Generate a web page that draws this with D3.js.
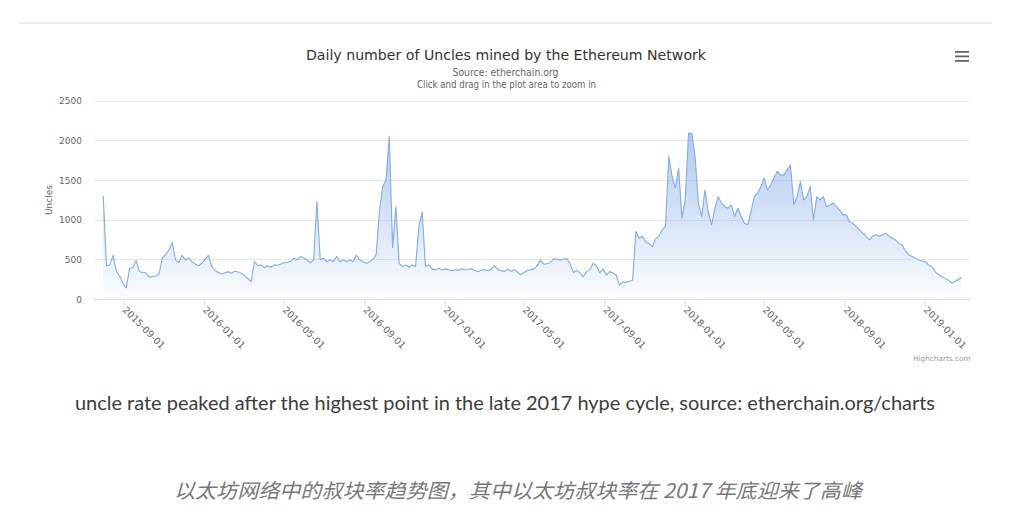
<!DOCTYPE html>
<html><head><meta charset="utf-8">
<script src="https://cdn.jsdelivr.net/npm/d3@7"></script>
<style>body{margin:0;background:#fff;} svg{display:block;}</style>
</head><body><svg id="c" width="1031" height="509"></svg>
<script>
// ---- data ----
const startDate = "2015-08-01";
const stepDays = 5;
const uncles = [
 1300, 420, 430, 550, 350, 290, 200, 140, 380, 400,
 485, 350, 330, 330, 275, 285, 290, 320, 520, 560,
 620, 710, 490, 460, 550, 490, 520, 470, 440, 420,
 450, 500, 550, 410, 360, 335, 315, 330, 345, 325,
 350, 340, 325, 295, 255, 220, 470, 420, 430, 395,
 420, 400, 430, 425, 440, 460, 460, 475, 515, 495,
 535, 515, 495, 455, 495, 1230, 495, 515, 470, 495,
 470, 535, 470, 495, 470, 495, 470, 555, 495, 470,
 450, 470, 495, 560, 1100, 1420, 1500, 2050, 650, 1165,
 450, 410, 430, 400, 430, 410, 915, 1100, 410, 430,
 380, 370, 385, 365, 380, 370, 355, 370, 360, 380,
 365, 375, 380, 360, 345, 365, 370, 355, 375, 420,
 370, 360, 345, 375, 350, 370, 340, 305, 335, 360,
 370, 380, 420, 490, 440, 445, 460, 510, 500, 490,
 500, 510, 440, 335, 360, 330, 280, 345, 370, 450,
 420, 330, 380, 300, 345, 330, 300, 175, 215, 210,
 225, 240, 850, 765, 790, 720, 700, 660, 760, 790,
 870, 915, 1800, 1545, 1400, 1650, 1020, 1250, 2090, 2090,
 1800, 1210, 1040, 1375, 1100, 935, 1140, 1290, 1210, 1165,
 1145, 1185, 1040, 1145, 1040, 955, 935, 1100, 1290, 1335,
 1415, 1525, 1375, 1440, 1525, 1610, 1565, 1565, 1630, 1690,
 1190, 1290, 1480, 1250, 1290, 1420, 1000, 1290, 1250, 1290,
 1165, 1185, 1210, 1165, 1120, 1060, 1060, 975, 955, 915,
 870, 830, 790, 745, 790, 810, 790, 810, 830, 790,
 765, 745, 700, 680, 600, 555, 535, 515, 490, 480,
 470, 430, 410, 345, 305, 280, 260, 240, 200, 220,
 245, 270
];
const yTicks = [0, 500, 1000, 1500, 2000, 2500];
const xTickLabels = ["2015-09-01","2016-01-01","2016-05-01","2016-09-01","2017-01-01",
  "2017-05-01","2017-09-01","2018-01-01","2018-05-01","2018-09-01","2019-01-01"];
const xRange = ["2015-07-18", "2019-03-11"];
const titleText = "Daily number of Uncles mined by the Ethereum Network";
const subtitleLines = ["Source: etherchain.org", "Click and drag in the plot area to zoom in"];
const yAxisTitle = "Uncles";
const creditsText = "Highcharts.com";
const captionEn = "uncle rate peaked after the highest point in the late 2017 hype cycle, source: etherchain.org/charts";
const captionZh = "以太坊网络中的叔块率趋势图，其中以太坊叔块率在 2017 年底迎来了高峰";

// ---- layout ----
const svg = d3.select("#c");
const parse = d3.utcParse("%Y-%m-%d");
const plot = {left: 94, right: 970, top: 100.7, bottom: 299};
const font = "'Lucida Grande','DejaVu Sans',Verdana,sans-serif";

const t0 = parse(startDate);
const series = uncles.map((v, i) => ({date: d3.utcDay.offset(t0, i * stepDays), value: v}));

const x = d3.scaleUtc().domain(xRange.map(parse)).range([plot.left, plot.right]);
const y = d3.scaleLinear().domain([0, 2500]).range([plot.bottom, plot.top]);

// top separator line
svg.append("line").attr("x1", 19).attr("x2", 992).attr("y1", 23).attr("y2", 23)
  .attr("stroke", "#ececec").attr("stroke-width", 2);

// gradient
const defs = svg.append("defs");
const grad = defs.append("linearGradient").attr("id", "ag")
  .attr("x1", 0).attr("y1", 0).attr("x2", 0).attr("y2", 1);
grad.append("stop").attr("offset", 0).attr("stop-color", "#80a9e6").attr("stop-opacity", 0.62);
grad.append("stop").attr("offset", 1).attr("stop-color", "#80a9e6").attr("stop-opacity", 0.03);

// gridlines
svg.append("g").selectAll("line").data(yTicks.filter(d => d > 0)).join("line")
  .attr("x1", plot.left).attr("x2", plot.right)
  .attr("y1", d => Math.round(y(d)) + 0.5).attr("y2", d => Math.round(y(d)) + 0.5)
  .attr("stroke", "#e8e8e8").attr("stroke-width", 1);

// y axis labels
const yAxis = d3.axisLeft(y).tickValues(yTicks).tickSize(0).tickPadding(0).tickFormat(d3.format("d"));
const yg = svg.append("g").attr("transform", `translate(82,0)`).call(yAxis);
yg.select(".domain").remove();
yg.selectAll("text").attr("font-family", font).attr("font-size", 9).attr("fill", "#666")
  .attr("dy", "0.35em");

// area + line
const area = d3.area().x(d => x(d.date)).y0(y(0)).y1(d => y(d.value));
const line = d3.line().x(d => x(d.date)).y(d => y(d.value));
svg.append("path").datum(series).attr("d", area).attr("fill", "url(#ag)");
svg.append("path").datum(series).attr("d", line).attr("fill", "none")
  .attr("stroke", "#84abe2").attr("stroke-width", 1.1).attr("stroke-linejoin", "round");

// x axis
const xAxis = d3.axisBottom(x).tickValues(xTickLabels.map(parse)).tickSize(8)
  .tickFormat(d3.utcFormat("%Y-%m-%d"));
const xg = svg.append("g").attr("transform", `translate(0,${plot.bottom + 0.5})`).call(xAxis);
xg.select(".domain").attr("stroke", "#d6deec").attr("d", `M${plot.left},0H${plot.right}`);
xg.selectAll(".tick line").attr("stroke", "#d6deec");
xg.selectAll(".tick text").attr("font-family", font).attr("font-size", 9.5).attr("fill", "#666")
  .attr("text-anchor", "start").attr("y", 0).attr("dy", 0)
  .attr("transform", "translate(-2,11) rotate(45)");

// titles
svg.append("text").attr("x", 506).attr("y", 59.5).attr("text-anchor", "middle")
  .attr("font-family", font).attr("font-size", 14.5).attr("fill", "#333")
  .attr("textLength", 400).attr("lengthAdjust", "spacingAndGlyphs").text(titleText);
svg.append("text").attr("x", 505.5).attr("y", 76).attr("text-anchor", "middle")
  .attr("font-family", font).attr("font-size", 9.6).attr("fill", "#666")
  .attr("textLength", 106).attr("lengthAdjust", "spacingAndGlyphs").text(subtitleLines[0]);
svg.append("text").attr("x", 506.5).attr("y", 88).attr("text-anchor", "middle")
  .attr("font-family", font).attr("font-size", 9.6).attr("fill", "#666")
  .attr("textLength", 179).attr("lengthAdjust", "spacingAndGlyphs").text(subtitleLines[1]);

// y axis title
svg.append("text").attr("transform", "translate(51.5,200) rotate(-90)").attr("text-anchor", "middle")
  .attr("font-family", font).attr("font-size", 9).attr("fill", "#666").text(yAxisTitle);

// credits
svg.append("text").attr("x", 970.5).attr("y", 361).attr("text-anchor", "end")
  .attr("font-family", font).attr("font-size", 7.3).attr("fill", "#999").text(creditsText);

// menu icon
svg.append("g").selectAll("rect").data([51, 55.5, 60]).join("rect")
  .attr("x", 955).attr("y", d => d).attr("width", 14).attr("height", 1.8).attr("fill", "#666");

// captions
svg.append("text").attr("x", 75).attr("y", 410)
  .attr("font-family", "Lato,'Open Sans',sans-serif").attr("font-size", 19).attr("fill", "#3c3c3c")
  .attr("textLength", 860).attr("lengthAdjust", "spacingAndGlyphs").text(captionEn);
svg.append("text").attr("x", 518).attr("y", 498).attr("text-anchor", "middle")
  .attr("font-family", "'Noto Sans CJK SC',sans-serif").attr("font-size", 20).attr("font-style", "italic")
  .attr("fill", "#777").attr("textLength", 688).attr("lengthAdjust", "spacingAndGlyphs").text(captionZh);
</script></body></html>
